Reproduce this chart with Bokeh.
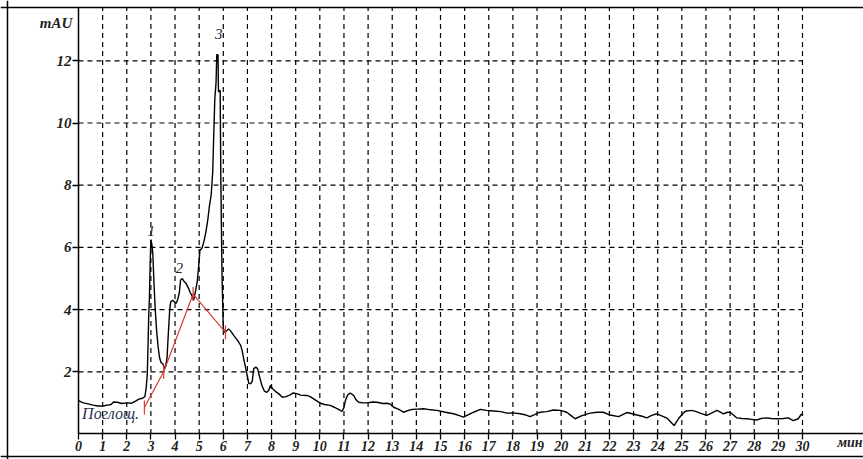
from math import pi
from bokeh.plotting import figure
from bokeh.models import Range1d, FixedTicker, Span
from bokeh.core.properties import value
from bokeh.embed import file_html
from bokeh.resources import INLINE

# ---- data ----
time_min = [0.0, 0.2, 0.4, 0.6, 0.8, 1.0, 1.2, 1.35, 1.45, 1.6, 1.8, 2.0, 2.2, 2.35, 2.5, 2.65,
            2.75, 2.8, 2.85, 2.88, 2.91, 2.94, 2.97, 3.0, 3.04, 3.08, 3.13, 3.18, 3.24, 3.3,
            3.36, 3.42, 3.5, 3.56, 3.62, 3.67, 3.72, 3.78, 3.82, 3.9, 3.97, 4.05, 4.12, 4.18,
            4.23, 4.3, 4.38, 4.45, 4.55, 4.63, 4.7, 4.77, 4.85, 4.92, 4.98, 5.03, 5.12, 5.2,
            5.28, 5.36, 5.42, 5.5, 5.56, 5.6, 5.65, 5.7, 5.73, 5.78, 5.8, 5.87, 5.9, 5.95,
            6.0, 6.05, 6.12, 6.22, 6.32, 6.43, 6.55, 6.64, 6.72, 6.78, 6.85, 6.92, 7.0, 7.06,
            7.14, 7.2, 7.26, 7.35, 7.42, 7.5, 7.6, 7.7, 7.8, 7.88, 7.95, 8.05, 8.15, 8.3,
            8.45, 8.6, 8.75, 8.9, 9.05, 9.2, 9.47, 9.6, 9.74, 10.02, 10.2, 10.43, 10.6, 10.75,
            10.92, 11.0, 11.06, 11.15, 11.26, 11.4, 11.5, 11.61, 11.8, 11.95, 12.2, 12.37,
            12.6, 12.78, 12.95, 13.06, 13.25, 13.47, 13.6, 13.81, 14.05, 14.29, 14.5, 14.85,
            15.2, 15.54, 15.75, 15.95, 16.1, 16.37, 16.65, 16.9, 17.2, 17.5, 17.75, 18.0,
            18.3, 18.5, 18.71, 18.9, 19.13, 19.4, 19.68, 19.96, 20.23, 20.4, 20.58, 20.86,
            21.2, 21.5, 21.75, 22.03, 22.38, 22.72, 22.9, 23.14, 23.35, 23.55, 23.75, 23.97,
            24.24, 24.4, 24.51, 24.68, 24.86, 25.0, 25.14, 25.41, 25.6, 25.76, 26.03, 26.25,
            26.45, 26.6, 26.72, 26.9, 27.0, 27.15, 27.27, 27.5, 27.69, 27.9, 28.1, 28.3,
            28.51, 28.7, 28.93, 29.2, 29.41, 29.62, 29.82, 29.97]
absorbance = [1.07, 1.0, 0.97, 0.93, 0.9, 0.9, 0.93, 0.95, 1.03, 1.02, 0.98, 1.0, 0.99, 1.05, 1.12, 1.15,
              1.2, 1.45, 1.9, 2.8, 3.8, 4.4, 5.5, 6.25, 6.1, 5.8, 4.8, 4.0, 3.3, 2.8,
              2.45, 2.3, 2.25, 2.1, 2.2, 2.47, 3.2, 4.0, 4.25, 4.3, 4.25, 4.2, 4.35, 4.55,
              4.95, 5.0, 4.9, 4.85, 4.7, 4.55, 4.45, 4.3, 4.6, 4.9, 5.4, 5.9, 5.98, 6.2,
              6.5, 6.9, 7.3, 7.7, 8.4, 9.5, 10.8, 11.3, 12.2, 12.2, 11.0, 11.05, 8.0, 5.0,
              3.4, 3.27, 3.3, 3.38, 3.3, 3.17, 3.05, 2.95, 2.85, 2.68, 2.4, 2.15, 1.85, 1.62,
              1.62, 1.7, 2.1, 2.15, 2.1, 1.85, 1.56, 1.38, 1.34, 1.4, 1.56, 1.45, 1.38, 1.29,
              1.18, 1.2, 1.25, 1.32, 1.3, 1.25, 1.24, 1.2, 1.13, 0.99, 0.95, 0.92, 0.86, 0.8,
              0.73, 0.85, 1.08, 1.25, 1.32, 1.24, 1.1, 1.02, 1.0, 1.0, 1.03, 1.02,
              0.98, 0.99, 0.95, 0.86, 0.8, 0.7, 0.74, 0.79, 0.8, 0.81, 0.79, 0.76,
              0.7, 0.65, 0.6, 0.54, 0.6, 0.7, 0.79, 0.76, 0.74, 0.72, 0.67, 0.68,
              0.65, 0.62, 0.56, 0.62, 0.7, 0.72, 0.77, 0.76, 0.7, 0.6, 0.49, 0.59,
              0.67, 0.7, 0.7, 0.61, 0.56, 0.69, 0.66, 0.61, 0.57, 0.52, 0.6, 0.65,
              0.56, 0.5, 0.41, 0.27, 0.49, 0.62, 0.73, 0.76, 0.72, 0.67, 0.6, 0.68,
              0.76, 0.7, 0.65, 0.7, 0.7, 0.6, 0.52, 0.5, 0.49, 0.47, 0.45, 0.5,
              0.52, 0.5, 0.49, 0.5, 0.52, 0.43, 0.49, 0.65]

baseline_t = [2.73, 3.53, 4.75, 6.09]
baseline_v = [0.85, 2.0, 4.5, 3.27]

peak_labels = ["1", "2", "3"]
peak_t = [3.01, 4.18, 5.81]
peak_v = [6.54, 5.33, 12.87]

x_ticks = list(range(0, 31))
y_ticks = [2, 4, 6, 8, 10, 12]

y_unit = "mAU"
x_unit = "мин"
trace_name = "Поглощ."

# ---- view ----
X0, X1 = -3.232, 32.528
Y0, Y1 = -0.82, 13.939
BOX_LEFT, BOX_TOP, BOX_BOTTOM = -2.942, 13.714, -0.723
X_MAX = 30

p = figure(width=863, height=459, x_range=Range1d(X0, X1), y_range=Range1d(Y0, Y1),
           output_backend="svg", toolbar_location=None, min_border=0,
           background_fill_color="white", border_fill_color="white",
           outline_line_color=None)
p.xgrid.visible = False
p.ygrid.visible = False

# dashed grid
vx = x_ticks[1:]
p.segment(x0=vx, y0=[0] * len(vx), x1=vx, y1=[BOX_TOP] * len(vx),
          line_color="black", line_width=1.2, line_dash="5 4")
p.segment(x0=[0] * len(y_ticks), y0=y_ticks, x1=[X_MAX] * len(y_ticks), y1=y_ticks,
          line_color="black", line_width=1.2, line_dash="5 4")

# axes inside the frame
for ax, bnd, tk, fs in ((p.xaxis[0], (0, X1), x_ticks, "14px"),
                        (p.yaxis[0], (0, BOX_TOP), y_ticks, "15px")):
    ax.fixed_location = 0
    ax.bounds = bnd
    ax.ticker = FixedTicker(ticks=tk)
    ax.major_label_text_font = "Liberation Serif"
    ax.major_label_text_font_style = "bold italic"
    ax.major_label_text_font_size = fs
    ax.major_label_text_color = "#222"
    ax.major_tick_out = 6
    ax.major_tick_in = 1
    ax.major_tick_line_width = 1.3
    ax.minor_tick_line_color = None
    ax.axis_line_width = 1.5
    ax.major_label_standoff = 1

# chromatogram
p.line(time_min, absorbance, line_color="black", line_width=1.4)

# baseline construction
p.line(baseline_t, baseline_v, line_color="#d83a32", line_width=1.2)
p.scatter(baseline_t, baseline_v, marker="dash", angle=pi / 2, size=14,
          line_color="#d83a32", line_width=1.2)

# texts
p.text(x=peak_t, y=peak_v, text=peak_labels, text_font=value("Liberation Serif"),
       text_font_style="italic", text_font_size="15px", text_align="center",
       text_baseline="middle", text_color="#222233")
p.text(x=[-0.26], y=[13.2], text=[y_unit], text_font=value("Liberation Serif"),
       text_font_style="bold italic", text_font_size="15px", text_align="right",
       text_baseline="middle", text_color="#222")
p.text(x=[0.15], y=[0.65], text=[trace_name], text_font=value("Liberation Serif"),
       text_font_style="italic", text_font_size="16px", text_align="left",
       text_baseline="middle", text_color="#2a3350")
p.text(x=[31.45], y=[-0.27], text=[x_unit], text_font=value("Liberation Serif"),
       text_font_style="bold italic", text_font_size="14px", text_align="left",
       text_baseline="middle", text_color="#222")

# outer box (left, top, bottom)
p.add_layout(Span(location=BOX_LEFT, dimension="height", line_color="black", line_width=1.5))
p.add_layout(Span(location=BOX_TOP, dimension="width", line_color="black", line_width=1.5))
p.add_layout(Span(location=BOX_BOTTOM, dimension="width", line_color="black", line_width=1.5))

open("out.html", "w").write(file_html(p, INLINE))
